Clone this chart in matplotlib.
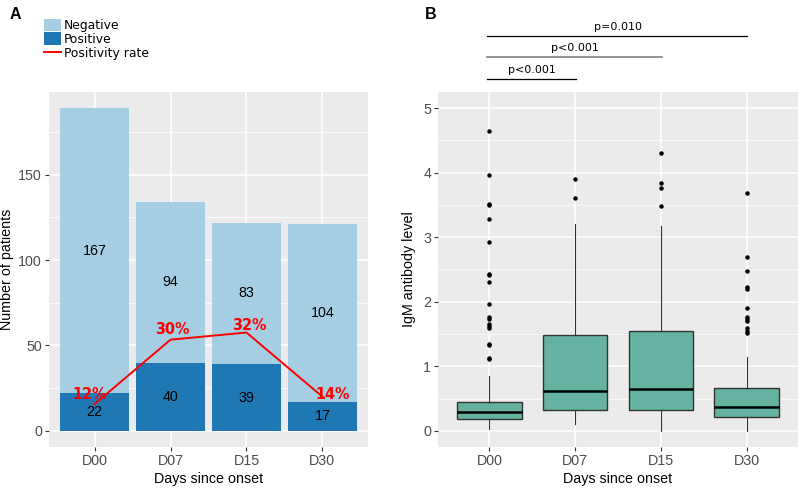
import numpy as np
import matplotlib
matplotlib.use("Agg")
import matplotlib.pyplot as plt
from matplotlib.patches import Patch
from matplotlib.lines import Line2D

# panel A data
days = ["D00", "D07", "D15", "D30"]
negative = [167, 94, 83, 104]
positive = [22, 40, 39, 17]
rate_labels = ["12%", "30%", "32%", "14%"]
rate_line = [15.7, 53.4, 57.6, 20.0]
rate_label_nudge = [(-3.4, 7.2), (1, 7.2), (2, 5), (7.6, 1.5)]  # points

# panel B data
q1 = [0.186, 0.325, 0.325, 0.217]
median = [0.294, 0.62, 0.645, 0.377]
q3 = [0.454, 1.48, 1.54, 0.66]
whisker_lo = [0.026, 0.10, 0.0, 0.0]
whisker_hi = [0.857, 3.21, 3.17, 1.145]
outliers = [
    [4.65, 3.96, 3.52, 3.50, 3.28, 2.93, 2.43, 2.41, 2.30, 1.97, 1.77, 1.74,
     1.65, 1.62, 1.59, 1.35, 1.33, 1.13, 1.11],
    [3.90, 3.60],
    [4.30, 3.84, 3.77, 3.49],
    [3.68, 2.70, 2.48, 2.23, 2.20, 1.91, 1.77, 1.73, 1.70, 1.60, 1.55, 1.52],
]
pairs = [(0, 1), (0, 2), (0, 3)]
pvals = ["p<0.001", "p<0.001", "p=0.010"]
bracket_y = [5.45, 5.79, 6.11]
bracket_col = ["black", "#808080", "black"]

BG = "#EBEBEB"
TICK = "#4D4D4D"
LIGHT = "#A6CEE3"
DARK = "#1F78B4"
BOX = "#66B2A0"
FS = 10.3

plt.rcParams["font.family"] = ["Liberation Sans", "DejaVu Sans"]


def gg_axes(ax):
    ax.set_facecolor(BG)
    for s in ax.spines.values():
        s.set_visible(False)
    ax.grid(which="major", color="white", linewidth=1.1)
    ax.grid(which="minor", axis="y", color="white", linewidth=0.5)
    ax.set_axisbelow(True)
    ax.tick_params(axis="both", which="major", length=3, width=0.8,
                   color="#333333", labelcolor=TICK, labelsize=FS, pad=2)
    ax.tick_params(axis="both", which="minor", length=0)


fig = plt.figure(figsize=(8, 4.88), dpi=100)
axA = fig.add_axes([0.06125, 0.084, 0.39875, 0.7275])
axB = fig.add_axes([0.5475, 0.084, 0.45, 0.7275])

# ---- panel A
x = np.arange(len(days))
gg_axes(axA)
axA.bar(x, positive, width=0.9, color=DARK, zorder=2)
axA.bar(x, negative, width=0.9, bottom=positive, color=LIGHT, zorder=2)
for i in range(len(days)):
    axA.text(x[i], positive[i] / 2, str(positive[i]), ha="center", va="center",
             fontsize=FS, color="black", zorder=4)
    axA.text(x[i], positive[i] + negative[i] / 2, str(negative[i]), ha="center",
             va="center", fontsize=FS, color="black", zorder=4)
axA.plot(x, rate_line, color="red", linewidth=1.4, zorder=3)
for i in range(len(days)):
    axA.annotate(rate_labels[i], (x[i], rate_line[i]), xytext=rate_label_nudge[i],
                 textcoords="offset points", ha="center", va="center",
                 color="red", fontsize=11.5, fontweight="bold",
                 family="DejaVu Sans", fontstretch="condensed", zorder=5)
axA.set_xlim(-0.6, 3.6)
axA.set_ylim(-9.45, 198.45)
axA.set_xticks(x)
axA.set_xticklabels(days)
axA.set_yticks([0, 50, 100, 150])
axA.set_yticks([25, 75, 125, 175], minor=True)
axA.set_xlabel("Days since onset", fontsize=FS, labelpad=3)
axA.set_ylabel("Number of patients", fontsize=FS, labelpad=3)

handles = [Patch(facecolor=LIGHT, edgecolor="none", label="Negative"),
           Patch(facecolor=DARK, edgecolor="none", label="Positive"),
           Line2D([], [], color="red", linewidth=1.4, label="Positivity rate")]
fig.legend(handles=handles, loc="upper left", bbox_to_anchor=(0.055, 0.962),
           frameon=False, prop={"family": "DejaVu Sans", "size": 8.9},
           handlelength=1.35, handleheight=1.15, handletextpad=0.25,
           labelspacing=0.05, borderpad=0, borderaxespad=0)

fig.text(0.012, 0.985, "A", fontsize=11.5, fontweight="bold", va="top", ha="left")
fig.text(0.531, 0.985, "B", fontsize=11.5, fontweight="bold", va="top", ha="left")

# ---- panel B
gg_axes(axB)
stats = []
for i in range(len(days)):
    stats.append({"q1": q1[i], "med": median[i], "q3": q3[i],
                  "whislo": whisker_lo[i], "whishi": whisker_hi[i],
                  "fliers": outliers[i], "label": days[i]})
axB.bxp(stats, positions=x, widths=0.75, patch_artist=True, showcaps=False,
        boxprops={"facecolor": BOX, "edgecolor": "#333333", "linewidth": 1.0},
        medianprops={"color": "black", "linewidth": 1.8},
        whiskerprops={"color": "#333333", "linewidth": 0.8},
        flierprops={"marker": "o", "markersize": 2.2, "markerfacecolor": "black",
                    "markeredgecolor": "black"}, zorder=2)
axB.set_xlim(-0.6, 3.6)
axB.set_ylim(-0.25, 5.25)
axB.set_xticks(x)
axB.set_xticklabels(days)
axB.set_yticks([0, 1, 2, 3, 4, 5])
axB.set_yticks([0.5, 1.5, 2.5, 3.5, 4.5], minor=True)
axB.set_xlabel("Days since onset", fontsize=FS, labelpad=3)
axB.set_ylabel("IgM antibody level", fontsize=FS, labelpad=5)

for (a, b), p, yb, c in zip(pairs, pvals, bracket_y, bracket_col):
    lw = 1.2 if c != "black" else 0.9
    axB.plot([x[a] - 0.03, x[b] + 0.01], [yb, yb], color=c, linewidth=lw,
             clip_on=False)
    axB.annotate(p, ((x[a] + x[b]) / 2, yb), xytext=(0, 3),
                 textcoords="offset points", ha="center", va="bottom",
                 fontsize=8, family="DejaVu Sans", annotation_clip=False)

fig.savefig("out.png", dpi=100)
